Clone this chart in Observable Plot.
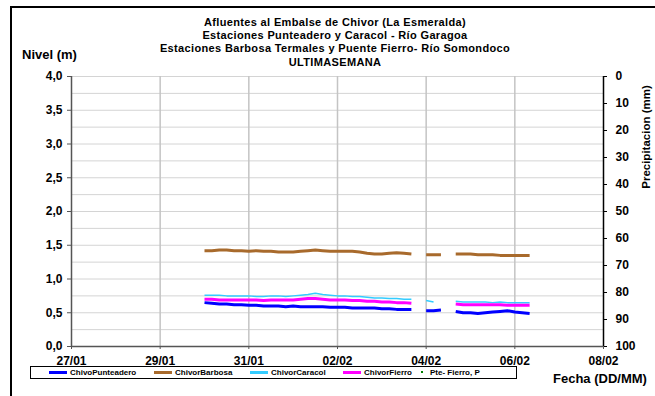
<!DOCTYPE html>
<html>
<head>
<meta charset="utf-8">
<script src="https://cdn.jsdelivr.net/npm/d3@7"></script>
<script src="https://cdn.jsdelivr.net/npm/@observablehq/plot@0.6"></script>
<style>
  html, body { margin: 0; padding: 0; background: #fff; }
  #wrap { position: relative; width: 655px; height: 396px; overflow: hidden; font-family: "Liberation Sans", Arial, sans-serif; color: #000; }
  #wrap svg { position: absolute; left: 0; top: 0; }
  .abs { position: absolute; white-space: nowrap; line-height: 14px; }
  .title { left: -15px; width: 700px; text-align: center; font-weight: bold; font-size: 11px; letter-spacing: 0.35px; line-height: 12px; height: 12px; }
  #border { position: absolute; left: 10px; top: 6px; width: 700px; height: 400px; border-top: 2px solid #000; border-left: 2px solid #000; }
  #legend { position: absolute; left: 30px; top: 366px; width: 485px; height: 11px; border: 1px solid #000; font-size: 8px; font-weight: bold; }
  .sw { position: absolute; top: 4px; height: 3px; }
  .lt { position: absolute; top: 0px; line-height: 11px; }
</style>
</head>
<body>
<div id="wrap">
  <div id="border"></div>
</div>
<script>
// ---- data ----
const xTickLabels = ["27/01", "29/01", "31/01", "02/02", "04/02", "06/02", "08/02"];
const levelTicks = [0, 0.5, 1, 1.5, 2, 2.5, 3, 3.5, 4];
const levelGrid = [0.25, 0.5, 0.75, 1, 1.25, 1.5, 1.75, 2, 2.25, 2.5, 2.75, 3, 3.25, 3.5, 3.75, 4];
const precipTicks = [0, 10, 20, 30, 40, 50, 60, 70, 80, 90, 100];

const times = [
  "30/01 00", "30/01 04", "30/01 08", "30/01 12", "30/01 16", "30/01 20",
  "31/01 00", "31/01 04", "31/01 08", "31/01 12", "31/01 16", "31/01 20",
  "01/02 00", "01/02 04", "01/02 08", "01/02 12", "01/02 16", "01/02 20",
  "02/02 00", "02/02 04", "02/02 08", "02/02 12", "02/02 16", "02/02 20",
  "03/02 00", "03/02 04", "03/02 08", "03/02 12", "03/02 16", "03/02 20",
  "04/02 00", "04/02 04", "04/02 08", "04/02 12", "04/02 16", "04/02 20",
  "05/02 00", "05/02 04", "05/02 08", "05/02 12", "05/02 16", "05/02 20",
  "06/02 00", "06/02 04", "06/02 08"
];

const seriesNames = ["ChivoPunteadero", "ChivorBarbosa", "ChivorCaracol", "ChivorFierro"];
const seriesColors = ["#0000ff", "#a86a2c", "#33ccff", "#ff00ff"];

const punteadero = [
  0.65, 0.64, 0.63, 0.63, 0.62, 0.62, 0.61, 0.61, 0.60, 0.60, 0.60, 0.59,
  0.60, 0.59, 0.59, 0.59, 0.59, 0.58, 0.58, 0.58, 0.57, 0.57, 0.57, 0.57,
  0.56, 0.56, 0.55, 0.55, 0.55, null, 0.53, 0.53, 0.54, null, 0.52, 0.50,
  0.50, 0.49, 0.50, 0.51, 0.52, 0.53, 0.51, 0.50, 0.49
];
const barbosa = [
  1.42, 1.42, 1.43, 1.43, 1.42, 1.42, 1.41, 1.42, 1.41, 1.41, 1.40, 1.40,
  1.40, 1.41, 1.42, 1.43, 1.42, 1.41, 1.41, 1.41, 1.41, 1.40, 1.38, 1.37,
  1.37, 1.38, 1.39, 1.38, 1.37, null, 1.36, 1.36, 1.36, null, 1.37, 1.37,
  1.37, 1.36, 1.36, 1.36, 1.35, 1.35, 1.35, 1.35, 1.35
];
const caracol = [
  0.76, 0.76, 0.76, 0.75, 0.75, 0.75, 0.75, 0.74, 0.74, 0.75, 0.75, 0.74,
  0.75, 0.76, 0.77, 0.79, 0.77, 0.76, 0.75, 0.75, 0.74, 0.74, 0.73, 0.72,
  0.72, 0.71, 0.71, 0.70, 0.70, null, 0.68, 0.66, null, null, 0.67, 0.66,
  0.66, 0.66, 0.66, 0.65, 0.66, 0.65, 0.65, 0.65, 0.65
];
const fierro = [
  0.70, 0.70, 0.69, 0.69, 0.69, 0.69, 0.69, 0.69, 0.68, 0.69, 0.69, 0.69,
  0.69, 0.70, 0.71, 0.71, 0.70, 0.69, 0.69, 0.69, 0.68, 0.68, 0.67, 0.67,
  0.66, 0.66, 0.65, 0.65, 0.64, null, null, null, null, null, 0.63, 0.62,
  0.62, 0.62, 0.62, 0.62, 0.62, 0.61, 0.61, 0.61, 0.61
];
const seriesValues = [punteadero, barbosa, caracol, fierro];
const seriesWidths = [3, 3, 1.5, 3];

// ---- build ----
const parseT = d3.utcParse("%d/%m %H");
const parseD = d3.utcParse("%d/%m");
const xTicks = xTickLabels.map(parseD);
const fmtDay = d3.utcFormat("%d/%m");
const fmtLevel = v => v.toFixed(1).replace(".", ",");

const lineMarks = seriesNames.map((name, si) => {
  const rows = times.map((t, i) => ({ t: parseT(t), v: seriesValues[si][i] }));
  return Plot.line(rows, {
    x: "t", y: "v", stroke: seriesColors[si], strokeWidth: seriesWidths[si],
    strokeLinejoin: "round", strokeLinecap: "butt"
  });
});

const chart = Plot.plot({
  width: 655, height: 396,
  marginLeft: 71, marginRight: 52, marginTop: 76, marginBottom: 50,
  style: { fontFamily: "'Liberation Sans', Arial, sans-serif", fontSize: "12px", fontWeight: "bold", color: "#000", background: "transparent", overflow: "visible" },
  x: { type: "utc", domain: [xTicks[0], xTicks[xTicks.length - 1]] },
  y: { domain: [0, 4] },
  marks: [
    Plot.gridY(levelGrid, { stroke: "#d4d4d4", strokeOpacity: 1 }),
    Plot.gridX(xTicks.slice(1, -1), { stroke: "#c4c4c4", strokeOpacity: 1, strokeWidth: 1.5 }),
    Plot.axisY(levelTicks, { anchor: "left", tickSize: 4, tickPadding: 5, tickFormat: fmtLevel, label: null, stroke: "#555" }),
    Plot.axisY(precipTicks.map(p => 4 * (1 - p / 100)), { anchor: "right", tickSize: 3, tickPadding: 9, tickFormat: v => String(Math.round(100 - v * 25)), label: null, stroke: "#000" }),
    Plot.axisX(xTicks, { anchor: "bottom", tickSize: 3, tickPadding: 7, tickFormat: fmtDay, label: null, stroke: "#555" }),
    Plot.ruleX([xTicks[0]], { stroke: "#555", strokeWidth: 1.5 }),
    Plot.ruleX([xTicks[xTicks.length - 1]], { stroke: "#000", strokeWidth: 1.5 }),
    Plot.ruleY([0], { stroke: "#555", strokeWidth: 1.5 }),
    ...lineMarks
  ]
});

const wrap = document.getElementById("wrap");
wrap.appendChild(chart);

function addText(html, cls, css) {
  const d = document.createElement("div");
  d.className = "abs " + (cls || "");
  d.innerHTML = html;
  Object.assign(d.style, css);
  wrap.appendChild(d);
  return d;
}
const titles = [
  "Afluentes al Embalse de Chivor (La Esmeralda)",
  "Estaciones Punteadero y Caracol - Río Garagoa",
  "Estaciones Barbosa Termales y Puente Fierro- Río Somondoco",
  "ULTIMASEMANA"
];
const titleTops = [16, 29, 42, 56];
titles.forEach((t, i) => addText(t, "title", { top: titleTops[i] + "px" }));
addText("Nivel (m)", "", { left: "22px", top: "48px", fontWeight: "bold", fontSize: "13px" });
addText("Fecha (DD/MM)", "", { left: "553px", top: "372px", fontWeight: "bold", fontSize: "13px" });
addText("Precipitacion (mm)", "", { left: "646px", top: "137px", fontSize: "11.5px", fontWeight: "bold", transform: "translate(-50%,-50%) rotate(-90deg)" });

// legend
const leg = document.createElement("div");
leg.id = "legend";
wrap.appendChild(leg);
const legX = [18, 123, 219, 312];
seriesNames.forEach((n, i) => {
  const sw = document.createElement("div");
  sw.className = "sw";
  Object.assign(sw.style, { left: legX[i] + "px", width: "18px", background: seriesColors[i] });
  leg.appendChild(sw);
  const tx = document.createElement("div");
  tx.className = "lt";
  tx.textContent = n;
  tx.style.left = (legX[i] + 21) + "px";
  leg.appendChild(tx);
});
const dot = document.createElement("div");
Object.assign(dot.style, { position: "absolute", left: "390px", top: "4px", width: "2px", height: "2px", background: "#008000" });
leg.appendChild(dot);
const dt = document.createElement("div");
dt.className = "lt"; dt.textContent = "Pte- Fierro, P"; dt.style.left = "399px";
leg.appendChild(dt);
</script>
</body>
</html>
